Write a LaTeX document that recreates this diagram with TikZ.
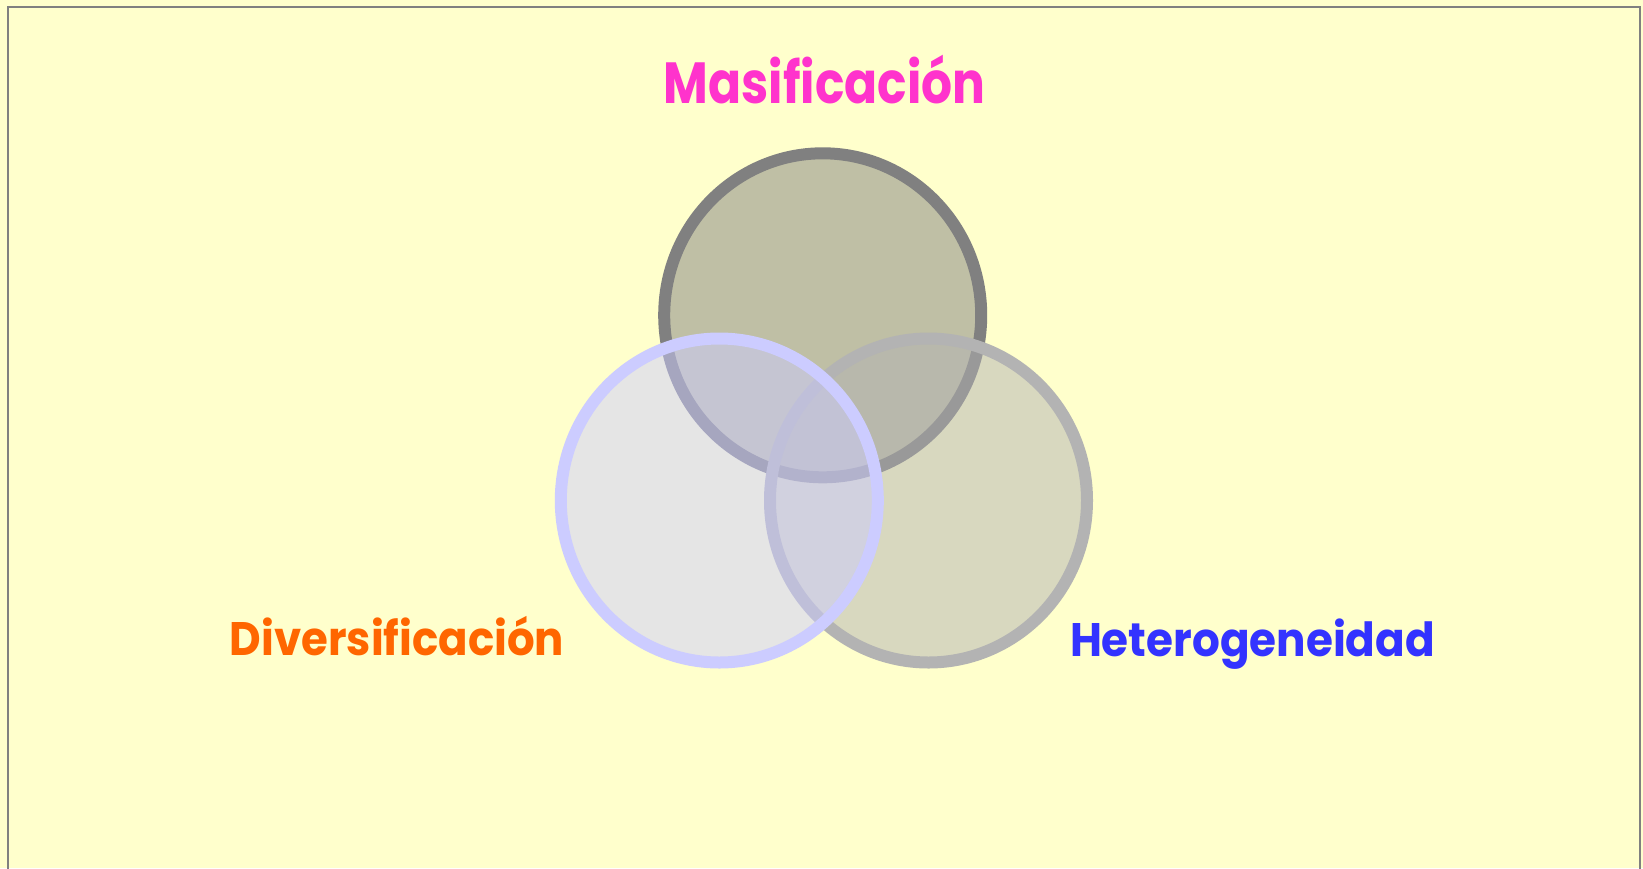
\documentclass[tikz,border=0pt]{standalone}
\usepackage{fontspec}
\setmainfont{Poppins}
\definecolor{bgyellow}{HTML}{FFFFCC}
\definecolor{framegray}{HTML}{808080}
\definecolor{topgray}{HTML}{808080}
\definecolor{rightgray}{HTML}{B3B3B3}
\definecolor{lavender}{HTML}{CCCCFF}
\definecolor{masicol}{HTML}{FF33CC}
\definecolor{divcol}{HTML}{FF6600}
\definecolor{hetcol}{HTML}{3333FF}
\tikzset{
  venn/.style={line width=12pt, fill opacity=0.5, draw opacity=1},
  label/.style={inner sep=0pt, anchor=base, font=\bfseries},
}
\begin{document}
\begin{tikzpicture}[x=1pt,y=-1pt]
\useasboundingbox (0,0) rectangle (1643,868);
\fill[bgyellow] (0,0) rectangle (1643,868);
\draw[framegray, line width=1.6pt] (7.7,7) rectangle (1640,890);
\coordinate (ctop) at (822.7,315.3);
\coordinate (cright) at (928.5,500.5);
\coordinate (cleft) at (719.3,500.5);
\draw[venn, draw=topgray, fill=topgray] (ctop) ellipse [x radius=158.5, y radius=162];
\draw[venn, draw=rightgray, fill=rightgray] (cright) ellipse [x radius=158.5, y radius=162];
\draw[venn, draw=lavender, fill=lavender] (cleft) ellipse [x radius=158.5, y radius=162];
\node[label, text=masicol, font=\bfseries\fontsize{58}{60}\selectfont] (masi) at (824.5,103) {\scalebox{0.84}[1]{Masificación}};
\node[label, text=divcol, font=\bfseries\fontsize{47}{50}\selectfont] (div) at (397,655) {\scalebox{0.925}[1]{Diversificación}};
\node[label, text=hetcol, font=\bfseries\fontsize{47}{50}\selectfont] (het) at (1252.5,656) {\scalebox{0.93}[1]{Heterogeneidad}};
\end{tikzpicture}
\end{document}
